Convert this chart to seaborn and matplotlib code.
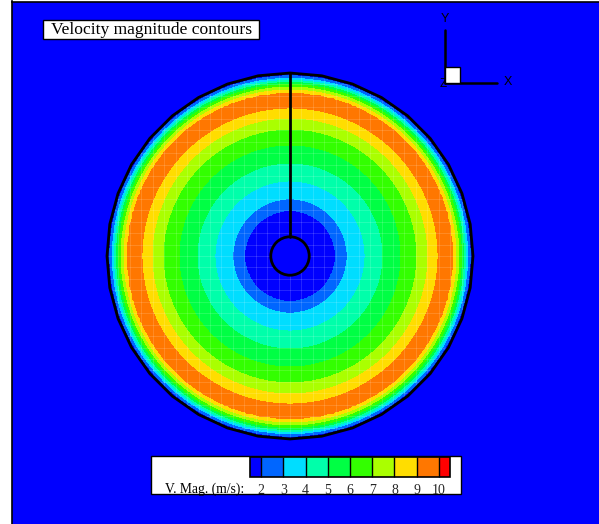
import numpy as np
import matplotlib
matplotlib.use("Agg")
import matplotlib.pyplot as plt
import seaborn as sns
from matplotlib.colors import ListedColormap, BoundaryNorm
from matplotlib.cm import ScalarMappable
from matplotlib.patches import Polygon, Circle, Rectangle
from matplotlib.lines import Line2D

# ---------------- data ----------------
# contour levels of velocity magnitude (m/s)
levels = [2, 3, 4, 5, 6, 7, 8, 9, 10]
level_colors = ["#0000ff", "#0066ff", "#00ddff", "#00ffaa", "#00ff44",
                "#33ff00", "#aaff00", "#ffdd00", "#ff7700", "#ff0000"]
tick_labels = ["2", "3", "4", "5", "6", "7", "8", "9", "10"]
# radial velocity profile (radius as fraction of the outer wall radius)
radius_frac = [0.000, 0.105, 0.250, 0.311, 0.410, 0.508, 0.607, 0.694,
               0.754, 0.809, 0.847, 0.891, 0.907, 0.923, 0.937, 0.948,
               0.959, 0.970, 0.984, 1.000]
velocity = [1.0, 1.2, 2.0, 3.0, 4.0, 5.0, 6.0, 7.0,
            8.0, 9.0, 9.7, 9.0, 8.0, 7.0, 6.0, 5.0,
            4.0, 3.0, 2.0, 1.0]
hub_radius = 0.105
title = "Velocity magnitude contours"
legend_title = "V. Mag. (m/s):"

# ---------------- style ----------------
sns.set_theme(style="white")
plt.rcParams["font.family"] = ["DejaVu Sans"]
palette = sns.color_palette(level_colors)

W, H = 599, 524
fig = plt.figure(figsize=(W / 100, H / 100), dpi=100)
fig.patch.set_facecolor("white")


def fx(x):
    return x / W


def fy(y):
    return 1 - y / H


# main axes (pixel geometry of the blue frame)
x0p, x1p, y0p, y1p = 12, 599, 1.5, 524
ax = fig.add_axes([fx(x0p), fy(y1p), fx(x1p) - fx(x0p), fy(y0p) - fy(y1p)])
ax.set_facecolor("#0000ff")
cx, cy, s = 290, 256, 183
ax.set_xlim((x0p - cx) / s, (x1p - cx) / s)
ax.set_ylim((cy - y1p) / s, (cy - y0p) / s)
ax.set_xticks([])
ax.set_yticks([])
for name, sp in ax.spines.items():
    sp.set_color("black")
    sp.set_linewidth(1.2)
    if name in ("right", "bottom"):
        sp.set_visible(False)

# velocity field
g = np.linspace(-1.02, 1.02, 141)
X, Y = np.meshgrid(g, g)
Rr = np.hypot(X, Y)
V = np.interp(Rr, radius_frac, velocity)
bounds = [-100] + levels + [100]
cs = ax.contourf(X, Y, V, levels=bounds, colors=palette, zorder=1)

# outer wall (faceted polygon)
nside = 36
ang = np.pi / 2 + np.arange(nside) * 2 * np.pi / nside
wall = Polygon(np.column_stack([np.cos(ang), np.sin(ang)]), closed=True,
               facecolor="none", edgecolor="black", lw=2, zorder=6)
ax.add_patch(wall)
cs.set_clip_path(wall)

# faint mesh lines
for k in range(-16, 17):
    for xs, ys in (([k / 16, k / 16], [-1.05, 1.05]), ([-1.05, 1.05], [k / 16, k / 16])):
        ln, = ax.plot(xs, ys, color="white", alpha=0.17, lw=0.6, zorder=2)
        ln.set_clip_path(wall)

# hub and blade line
ax.add_patch(Circle((0, 0), hub_radius, facecolor="#0000ff", edgecolor="black",
                    lw=2, zorder=7))
ax.plot([0, 0], [hub_radius, 1.0], color="black", lw=2, zorder=7)

# title box
fig.add_artist(Rectangle((fx(43.3), fy(39)), fx(259.3) - fx(43.3), (39 - 20.5) / H,
                         transform=fig.transFigure, facecolor="white",
                         edgecolor="black", lw=1, zorder=10))
fig.text(fx(151.3), fy(30.2), title, ha="center", va="center",
         family=["Liberation Serif"], fontsize=12.6, color="black", zorder=11)

# axis triad
tri = dict(color="black", lw=1.8, transform=fig.transFigure, zorder=10)
fig.add_artist(Line2D([fx(444.5), fx(444.5)], [fy(30), fy(82.7)], **tri))
fig.add_artist(Line2D([fx(444.5), fx(497)], [fy(82.7), fy(82.7)], **tri))
fig.text(fx(443), fy(84), "Z", ha="center", va="center", fontsize=8.5,
         family=["Liberation Sans"], color="black", zorder=10)
fig.add_artist(Rectangle((fx(444.5), fy(82.7)), (460.3 - 444.5) / W, (82.7 - 66.7) / H,
                         transform=fig.transFigure, facecolor="white",
                         edgecolor="black", lw=1, zorder=12))
fig.text(fx(444.5), fy(19), "Y", ha="center", va="center", fontsize=9,
         family=["Liberation Sans"], color="black", zorder=10)
fig.text(fx(508), fy(82), "X", ha="center", va="center", fontsize=9,
         family=["Liberation Sans"], color="black", zorder=10)

# legend box
fig.add_artist(Rectangle((fx(150.7), fy(494.3)), (460.7 - 150.7) / W, (494.3 - 455.7) / H,
                         transform=fig.transFigure, facecolor="white",
                         edgecolor="black", lw=1, zorder=10))
cax = fig.add_axes([fx(250), fy(477.3), (450 - 250) / W, (477.3 - 456.7) / H], zorder=20)
cb_bounds = [levels[0] - 0.5] + levels + [levels[-1] + 0.5]
cmap = ListedColormap(palette)
norm = BoundaryNorm(cb_bounds, cmap.N)
cb = fig.colorbar(ScalarMappable(norm=norm, cmap=cmap), cax=cax, orientation="horizontal",
                  boundaries=cb_bounds, spacing="proportional", drawedges=True)
cb.set_ticks(levels)
cb.set_ticklabels(tick_labels)
cb.minorticks_off()
for sp in cax.spines.values():
    sp.set_visible(False)
cb.outline.set_visible(True)
cb.outline.set_linewidth(1.2)
cb.outline.set_edgecolor("black")
cb.dividers.set_color("black")
cb.dividers.set_linewidth(1)
cax.tick_params(length=0, pad=4.5, labelsize=10)
for t in cax.get_xticklabels():
    t.set_fontfamily(["Liberation Serif"])
fig.text(fx(244.5), fy(489.3), legend_title, ha="right", va="center",
         family=["Liberation Serif"], fontsize=9.8, color="black", zorder=21)

fig.savefig("out.png", dpi=100)
